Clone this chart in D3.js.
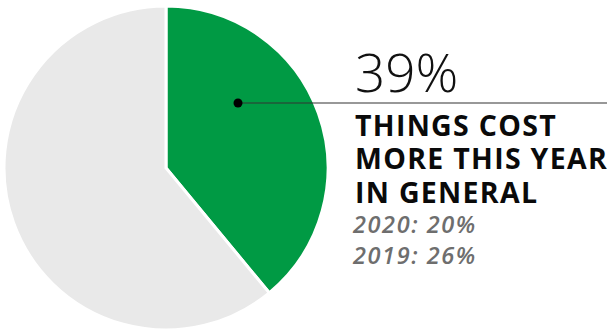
<!DOCTYPE html>
<html>
<head>
<meta charset="utf-8">
<script src="https://cdn.jsdelivr.net/npm/d3@7"></script>
<style>
  html, body { margin: 0; padding: 0; background: #fff; }
  svg { display: block; }
</style>
</head>
<body>
<svg id="chart" width="607" height="332"></svg>
<script>
// Share of respondents and the remainder
const categories = ["Things cost more this year in general", "Other"];
const values = [39, 61];
const sliceColors = ["#009a44", "#e9e9e9"];

// Callout text
const headline = "39%";
const labelLines = ["THINGS COST", "MORE THIS YEAR", "IN GENERAL"];
const history = ["2020: 20%", "2019: 26%"];

const svg = d3.select("#chart");
const cx = 166, cy = 168, radius = 162;

const pie = d3.pie().sort(null).value(d => d)(values);
const arc = d3.arc().innerRadius(0).outerRadius(radius);

const g = svg.append("g").attr("transform", `translate(${cx},${cy})`);
g.selectAll("path")
  .data(pie)
  .join("path")
  .attr("d", arc)
  .attr("fill", (d, i) => sliceColors[i])
  .attr("stroke", "#fff")
  .attr("stroke-width", 3)
  .attr("stroke-linejoin", "miter");

// Leader dot and line from the green slice to the label
const dotX = 238, dotY = 103;
svg.append("line")
  .attr("x1", dotX).attr("y1", dotY)
  .attr("x2", 607).attr("y2", dotY)
  .attr("stroke", "#333").attr("stroke-width", 1.2);
svg.append("circle")
  .attr("cx", dotX).attr("cy", dotY).attr("r", 4.5)
  .attr("fill", "#000");

const tx = 355;
svg.append("text")
  .attr("x", tx).attr("y", 91.5)
  .attr("font-family", "'Open Sans', sans-serif")
  .attr("font-weight", 300)
  .attr("font-size", 53)
  .attr("fill", "#111")
  .text(headline);

svg.append("g").selectAll("text")
  .data(labelLines)
  .join("text")
  .attr("x", tx)
  .attr("y", (d, i) => 136 + i * 33.3)
  .attr("font-family", "'Open Sans', sans-serif")
  .attr("font-weight", 700)
  .attr("font-size", 28.5)
  .attr("letter-spacing", 1.3)
  .attr("fill", "#0a0a0a")
  .text(d => d);

svg.append("g").selectAll("text")
  .data(history)
  .join("text")
  .attr("x", tx - 2)
  .attr("y", (d, i) => 232.7 + i * 31.6)
  .attr("font-family", "'Open Sans', sans-serif")
  .attr("font-style", "italic")
  .attr("font-weight", 600)
  .attr("font-size", 23.5)
  .attr("letter-spacing", 1.6)
  .attr("fill", "#6e6e6e")
  .text(d => d);
</script>
</body>
</html>
